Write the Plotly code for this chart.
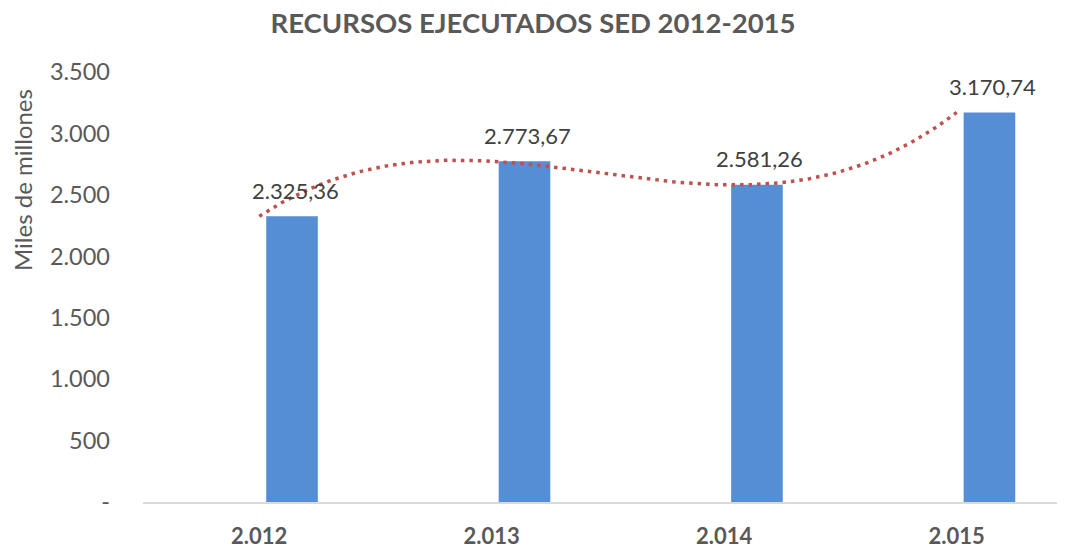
import numpy as np
import plotly.graph_objects as go

categories = ["2.012", "2.013", "2.014", "2.015"]
values = [2325.36, 2773.67, 2581.26, 3170.74]
value_labels = ["2.325,36", "2.773,67", "2.581,26", "3.170,74"]
y_tickvals = [0, 500, 1000, 1500, 2000, 2500, 3000, 3500]
y_ticktext = ["-", "500", "1.000", "1.500", "2.000", "2.500", "3.000", "3.500"]

xpos = np.arange(len(categories))

# polynomial (order 3) trendline, as in the original spreadsheet
coef = np.polyfit(xpos, values, 3)
xt = np.linspace(0, len(categories) - 1, 200)
yt = np.polyval(coef, xt)

BAR_OFFSET = 0.03
BAR_WIDTH = 0.222

FONT = "Lato"
fig = go.Figure()
fig.add_trace(go.Bar(
    x=xpos, y=values, offset=BAR_OFFSET, width=BAR_WIDTH,
    marker=dict(color="#558ED5", line=dict(width=0)),
    showlegend=False, hoverinfo="skip",
))
fig.add_trace(go.Scatter(
    x=xt, y=yt, mode="lines",
    line=dict(color="#C0504D", width=3.5, dash="3.5px,5px"),
    showlegend=False, hoverinfo="skip",
))

annotations = [
    dict(x=x + BAR_OFFSET + BAR_WIDTH / 2, y=v, text=t, xref="x", yref="y",
         xanchor="center", yanchor="middle", yshift=26, xshift=3, showarrow=False,
         font=dict(family=FONT, size=22, color="#404040"))
    for x, v, t in zip(xpos, values, value_labels)
]
annotations.append(dict(text="Miles de millones", textangle=-90, xref="paper", yref="paper",
                        x=-(135 - 14) / 922, y=(550 - 56 - 172) / 430, xanchor="center", yanchor="middle",
                        showarrow=False, font=dict(family=FONT, size=24, color="#595959")))

fig.update_layout(
    width=1065, height=550,
    margin=dict(l=135, r=8, t=64, b=56),
    paper_bgcolor="white", plot_bgcolor="white",
    title=dict(text="<b>RECURSOS EJECUTADOS SED 2012-2015</b>", x=(533 - 8) / 1065, xanchor="center",
               y=1 - 15 / 550, yanchor="middle",
               font=dict(family=FONT, size=27.5, color="#595959")),
    xaxis=dict(range=[-0.5, 3.466], tickvals=list(xpos), ticktext=[f"<b>{c}</b>" for c in categories],
               showgrid=False, zeroline=False, showline=True, linecolor="#D9D9D9", linewidth=2,
               ticks="", automargin=False, ticklabelstandoff=14,
               tickfont=dict(family=FONT, size=22, color="#595959")),
    yaxis=dict(range=[0, 3500], tickvals=y_tickvals, ticktext=y_ticktext,
               showgrid=False, zeroline=False, showline=False, ticks="",
               automargin=False, ticklabelstandoff=32,
               tickfont=dict(family=FONT, size=23.5, color="#595959")),
    annotations=annotations,
)

fig.write_html("out.html")
